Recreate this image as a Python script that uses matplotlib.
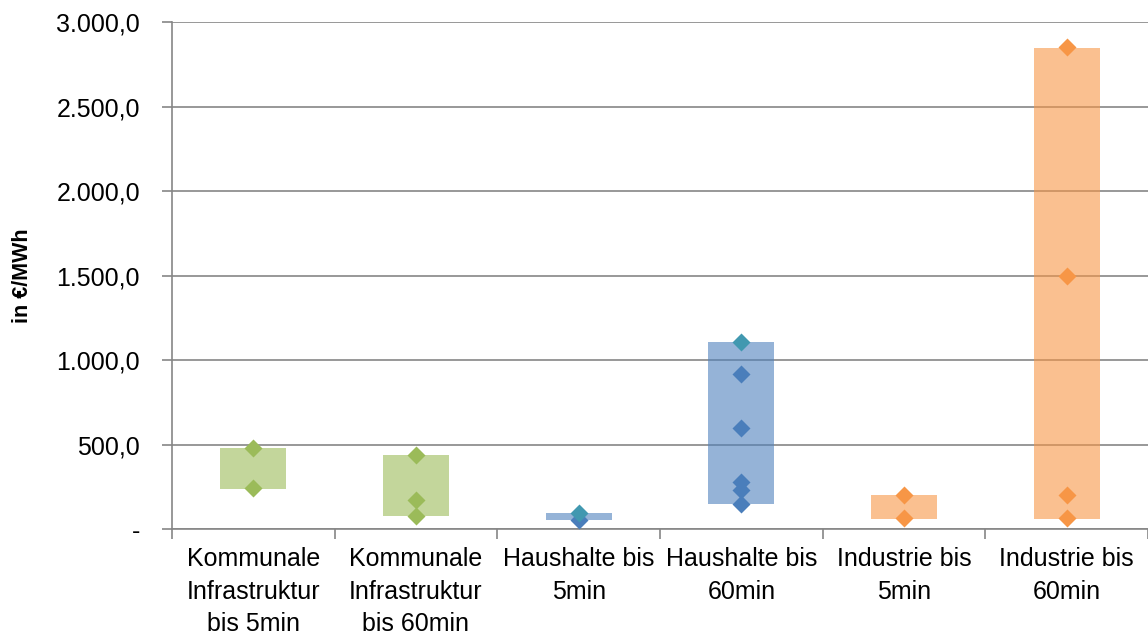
import matplotlib
matplotlib.use('Agg')
import matplotlib.pyplot as plt
import numpy as np
from matplotlib.ticker import FuncFormatter, FixedLocator

plt.rcParams['font.family'] = ['Liberation Sans', 'DejaVu Sans']

categories = ['Kommunale\nInfrastruktur\nbis 5min', 'Kommunale\nInfrastruktur\nbis 60min',
              'Haushalte bis\n5min', 'Haushalte bis\n60min',
              'Industrie bis\n5min', 'Industrie bis\n60min']

# range bars (min / max) in EUR/MWh
bar_low = [237, 77, 52, 150, 62, 62]
bar_high = [479, 438, 92, 1106, 200, 2845]

# single values per category
points = [[479, 240],
          [438, 172, 77],
          [52],
          [920, 600, 280, 230, 150],
          [200, 65],
          [2850, 1500, 200, 65]]
# highlighted (teal) values
points_hi = [[], [], [92], [1106], [], []]

base_colors = ['#9BBB59', '#9BBB59', '#4F81BD', '#4F81BD', '#F79646', '#F79646']
marker_colors = ['#9BBB59', '#9BBB59', '#4A7EBB', '#4A7EBB', '#F79646', '#F79646']
hi_color = '#4198B0'

fig = plt.figure(figsize=(11.48, 6.34), dpi=100)
ax = fig.add_axes([0.1498, 0.1656, 0.8502, 0.7997])

x = np.arange(len(categories))
heights = np.array(bar_high) - np.array(bar_low)
ax.bar(x, heights, bottom=bar_low, width=0.405, color=base_colors, alpha=0.6, zorder=3, linewidth=0)

for i in range(len(categories)):
	ax.plot([i]*len(points[i]), points[i], 'D', ms=9.5, color=marker_colors[i], mec='none', zorder=4)
	if points_hi[i]:
		ax.plot([i]*len(points_hi[i]), points_hi[i], 'D', ms=9.5, color=hi_color, mec='none', zorder=5)

ax.set_xlim(-0.5, 5.5)
ax.set_ylim(0, 3000)
ax.set_yticks(np.arange(0, 3001, 500))

def fmt(v, pos):
	if v == 0:
		return '-'
	s = '{:,.1f}'.format(v)
	return s.replace(',', 'X').replace('.', ',').replace('X', '.')

ax.yaxis.set_major_formatter(FuncFormatter(fmt))
ax.yaxis.grid(True, color='#868686', linewidth=1.2, zorder=0)
ax.set_axisbelow(True)

ax.set_xticks(x)
ax.set_xticklabels(categories, fontsize=18, linespacing=1.45)
ax.xaxis.set_minor_locator(FixedLocator(np.arange(-0.5, 5.6, 1)))
ax.tick_params(axis='x', which='major', length=0, pad=13)
ax.tick_params(axis='x', which='minor', length=7, color='#868686', width=1.2)
ax.tick_params(axis='y', length=7, color='#868686', width=1.2, labelsize=18, pad=16)

for s in ['top', 'right']:
	ax.spines[s].set_visible(False)
for s in ['left', 'bottom']:
	ax.spines[s].set_color('#868686')
	ax.spines[s].set_linewidth(1.2)

ax.set_ylabel('in €/MWh', fontsize=15.5, fontweight='bold', labelpad=17)

fig.savefig('out.png', dpi=100)
